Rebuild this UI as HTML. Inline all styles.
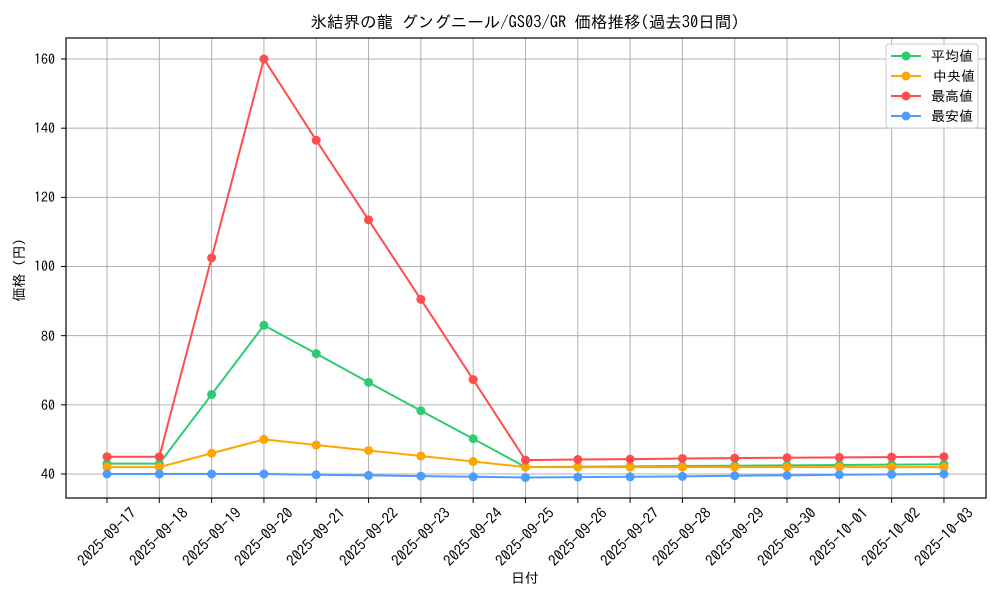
<!DOCTYPE html>
<html><head><meta charset="utf-8"><style>
body{margin:0;background:#fff}
svg{display:block;font-family:"IPAGothic","Liberation Sans","Noto Sans CJK JP",sans-serif}
</style></head><body>
<svg id="s" width="1000" height="600" viewBox="0 0 1000 600">
<rect width="1000" height="600" fill="#fff"/>
<g id="grid" stroke="#b0b0b0" stroke-width="1"></g>
<g id="series"></g>
<rect x="66" y="38" width="920" height="460" fill="none" stroke="#000" stroke-width="1.2"/>
<text x="525" y="28" font-size="16.5" text-anchor="middle">氷結界の龍 グングニール/GS03/GR 価格推移(過去30日間)</text>
<g font-size="14" text-anchor="end">
<text x="55" y="479">40</text><text x="55" y="410">60</text><text x="55" y="341">80</text>
<text x="55" y="271">100</text><text x="55" y="202">120</text><text x="55" y="133">140</text><text x="55" y="64">160</text>
</g>
<text transform="translate(24,270) rotate(-90)" font-size="14" text-anchor="middle">価格 (円)</text>
<text x="525" y="583" font-size="14" text-anchor="middle">日付</text>
<g id="xl" font-size="15" text-anchor="middle">
<text transform="translate(107,537) rotate(-45)" y="5">2025-09-17</text>
<text transform="translate(159,537) rotate(-45)" y="5">2025-09-18</text>
<text transform="translate(212,537) rotate(-45)" y="5">2025-09-19</text>
<text transform="translate(264,537) rotate(-45)" y="5">2025-09-20</text>
<text transform="translate(316,537) rotate(-45)" y="5">2025-09-21</text>
<text transform="translate(369,537) rotate(-45)" y="5">2025-09-22</text>
<text transform="translate(421,537) rotate(-45)" y="5">2025-09-23</text>
<text transform="translate(473,537) rotate(-45)" y="5">2025-09-24</text>
<text transform="translate(525,537) rotate(-45)" y="5">2025-09-25</text>
<text transform="translate(578,537) rotate(-45)" y="5">2025-09-26</text>
<text transform="translate(630,537) rotate(-45)" y="5">2025-09-27</text>
<text transform="translate(682,537) rotate(-45)" y="5">2025-09-28</text>
<text transform="translate(735,537) rotate(-45)" y="5">2025-09-29</text>
<text transform="translate(787,537) rotate(-45)" y="5">2025-09-30</text>
<text transform="translate(839,537) rotate(-45)" y="5">2025-10-01</text>
<text transform="translate(891,537) rotate(-45)" y="5">2025-10-02</text>
<text transform="translate(944,537) rotate(-45)" y="5">2025-10-03</text>
</g>
<g>
<rect x="886" y="44" width="92" height="84" rx="3" fill="#fff" fill-opacity="0.85" stroke="#ccc"/>
<line x1="891" y1="56" x2="921" y2="56" stroke="#2ecc71" stroke-width="2"/><circle cx="906" cy="56" r="4.5" fill="#2ecc71"/>
<line x1="891" y1="76" x2="921" y2="76" stroke="#ffa500" stroke-width="2"/><circle cx="906" cy="76" r="4.5" fill="#ffa500"/>
<line x1="891" y1="96" x2="921" y2="96" stroke="#ff4d4d" stroke-width="2"/><circle cx="906" cy="96" r="4.5" fill="#ff4d4d"/>
<line x1="891" y1="116" x2="921" y2="116" stroke="#4d9bff" stroke-width="2"/><circle cx="906" cy="116" r="4.5" fill="#4d9bff"/>
<g font-size="14"><text x="931" y="61">平均値</text><text x="933" y="81">中央値</text><text x="931" y="101">最高値</text><text x="931" y="121">最安値</text></g>
</g>
</svg>
<script>
var X=i=>107+i*52.31, Y=v=>474-(v-40)*3.4583;
var g=document.getElementById('grid'),h='';
for(var i=0;i<17;i++){var x=X(i);h+=`<line x1="${x}" y1="38" x2="${x}" y2="498"/><line x1="${x}" y1="498" x2="${x}" y2="503" stroke="#000"/>`;}
for(var v=40;v<=160;v+=20){var y=Y(v);h+=`<line x1="66" y1="${y}" x2="986" y2="${y}"/><line x1="61" y1="${y}" x2="66" y2="${y}" stroke="#000"/>`;}
g.innerHTML=h;
var S=[
['#2ecc71',[43,43,63,83,74.8,66.5,58.3,50.2,42,42.1,42.2,42.3,42.4,42.5,42.6,42.7,42.8]],
['#ffa500',[42,42,46,50,48.4,46.8,45.2,43.6,42,42,42,42,42,42,42,42,42]],
['#ff4d4d',[45,45,102.5,160,136.5,113.5,90.5,67.3,44,44.2,44.3,44.5,44.6,44.7,44.8,44.9,45]],
['#4d9bff',[40,40,40,40,39.8,39.6,39.4,39.2,39,39.1,39.2,39.3,39.5,39.6,39.8,39.9,40]]];
var o='';
S.forEach(s=>{var p=s[1].map((v,i)=>X(i)+','+Y(v)).join(' ');
o+=`<polyline points="${p}" fill="none" stroke="${s[0]}" stroke-width="2"/>`;
s[1].forEach((v,i)=>o+=`<circle cx="${X(i)}" cy="${Y(v)}" r="4.5" fill="${s[0]}"/>`);});
document.getElementById('series').innerHTML=o;
</script>
</body></html>
